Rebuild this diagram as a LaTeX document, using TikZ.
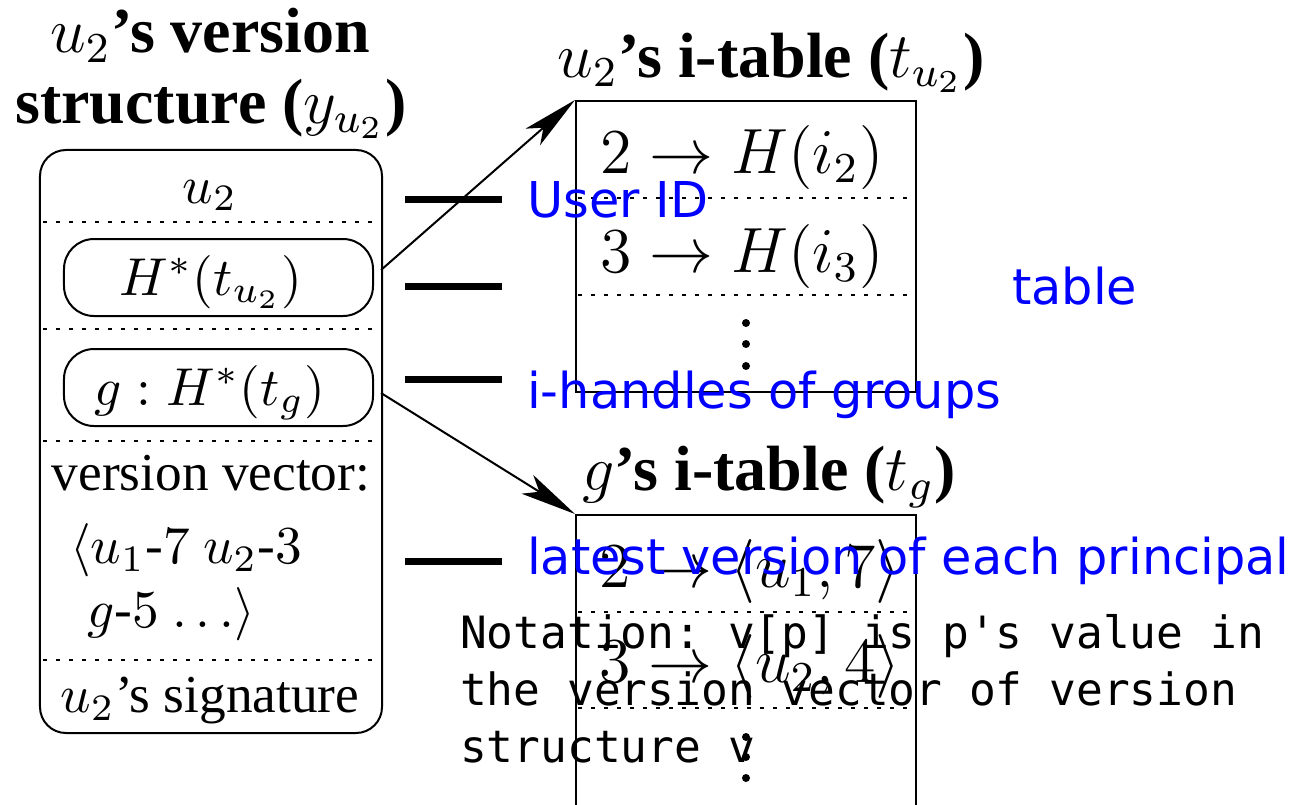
\RequirePackage{fix-cm}
\documentclass[tikz,border=0pt]{standalone}
\usepackage{graphicx}
\usepackage[no-math]{fontspec}
\setmainfont{Liberation Serif}
\setmonofont{DejaVu Sans Mono}
\newfontfamily\notefont{DejaVu Sans}
\usetikzlibrary{arrows.meta, positioning}

% figure text is set at normal size and blown up
\newcommand{\zm}[1]{\scalebox{5.35}{#1}}

\begin{document}
\begin{tikzpicture}[x=1bp, y=-1bp,
  frame/.style={draw, line width=2bp, inner sep=0pt},
  field/.style={frame, rounded corners=30bp, minimum width=309bp, minimum height=77bp},
  sep/.style={line width=2bp, dash pattern=on 4bp off 9bp},
  hd/.style={anchor=base, inner sep=0pt, font=\large\bfseries},
  txt/.style={anchor=base, inner sep=0pt, font=\normalsize},
  row/.style={anchor=base, inner sep=0pt, font=\large},
  tag/.style={anchor=base west, inner sep=0pt, text=blue, font=\notefont\fontsize{49.4bp}{56bp}\selectfont},
  mono/.style={anchor=base west, inner sep=0pt, font=\ttfamily\fontsize{44.5bp}{57bp}\selectfont},
  bar/.style={line width=7bp},
  link/.style={line width=2bp, -{Stealth[length=56bp, width=22bp, inset=14bp]}}
]
\clip (0,0) rectangle (1299,804);
\fill[white] (0,0) rectangle (1299,804);

% version structure
\node[hd] (vshead) at (210,53) {\zm{$u_2$'s version}};
\node[hd] (vshead2) at (211,123) {\zm{structure ($y_{u_2}$)}};
\node[frame, rounded corners=26bp, minimum width=342bp, minimum height=583bp] (vs) at (211,441.5) {};
\foreach \y in {222,329,441,660}
  \draw[sep] (43,\y) -- (380,\y);
\node[field] (fu) at (218.5,277.5) {};
\node[field] (fg) at (218.5,387.5) {};
\node[txt] (uid) at (210,203) {\zm{$u_2$}};
\node[txt] (hu) at (211,295) {\zm{$H^*(t_{u_2})$}};
\node[txt] (hg) at (210,405) {\zm{$g : H^*(t_g)$}};
\node[txt] (vv) at (211,490) {\zm{version vector:}};
\node[txt, anchor=base west] (vv1) at (70,563) {\zm{$\langle u_1$-$7$ $u_2$-$3$}};
\node[txt, anchor=base west] (vv2) at (87,627) {\zm{$g$-$5$ $\ldots\rangle$}};
\node[txt] (sig) at (210,712) {\zm{$u_2$'s signature}};

% i-tables
\node[hd] (ituhead) at (771,77) {\zm{$u_2$'s i-table ($t_{u_2}$)}};
\node[frame, minimum width=340bp, minimum height=291bp] (itu) at (746,246.5) {};
\draw[sep] (578,198) -- (914,198);
\draw[sep] (578,295) -- (914,295);
\node[row] (r1) at (742,173) {\zm{$2 \rightarrow H(i_2)$}};
\node[row] (r2) at (742,272) {\zm{$3 \rightarrow H(i_3)$}};

\node[hd] (itghead) at (769,490) {\zm{$g$'s i-table ($t_g$)}};
\node[frame, minimum width=340bp, minimum height=340bp] (itg) at (746,685) {};
\draw[sep] (578,612) -- (914,612);
\draw[sep] (578,708) -- (914,708);
\node[row] (r3) at (750,587) {\zm{$2 \rightarrow \langle u_1, 7\rangle$}};
\node[row] (r4) at (750,682) {\zm{$3 \rightarrow \langle u_2, 4\rangle$}};

\foreach \y in {323,344,366,737,757,778}
  \fill (746,\y) circle (4bp);

% pointers into the tables
\coordinate (fu-out) at (381,270);
\coordinate (fg-out) at (381,393);
\draw[link] (fu-out) -- (itu.north west);
\draw[link] (fg-out) -- (itg.north west);

% callouts
\foreach \y in {199,286,379,561}
  \draw[bar] (405,\y) -- (502,\y);
\node[tag] (lid) at (527,217) {User ID};
\node[tag] (ltab) at (1012,304) {table};
\node[tag] (lgrp) at (527,408) {i-handles of groups};
\node[tag] (lver) at (527,574) {latest version of each principal};

\node[mono] (note1) at (460,648) {Notation: v[p] is p's value in};
\node[mono] (note2) at (460,705) {the version vector of version};
\node[mono] (note3) at (460,762) {structure v};
\end{tikzpicture}
\end{document}
